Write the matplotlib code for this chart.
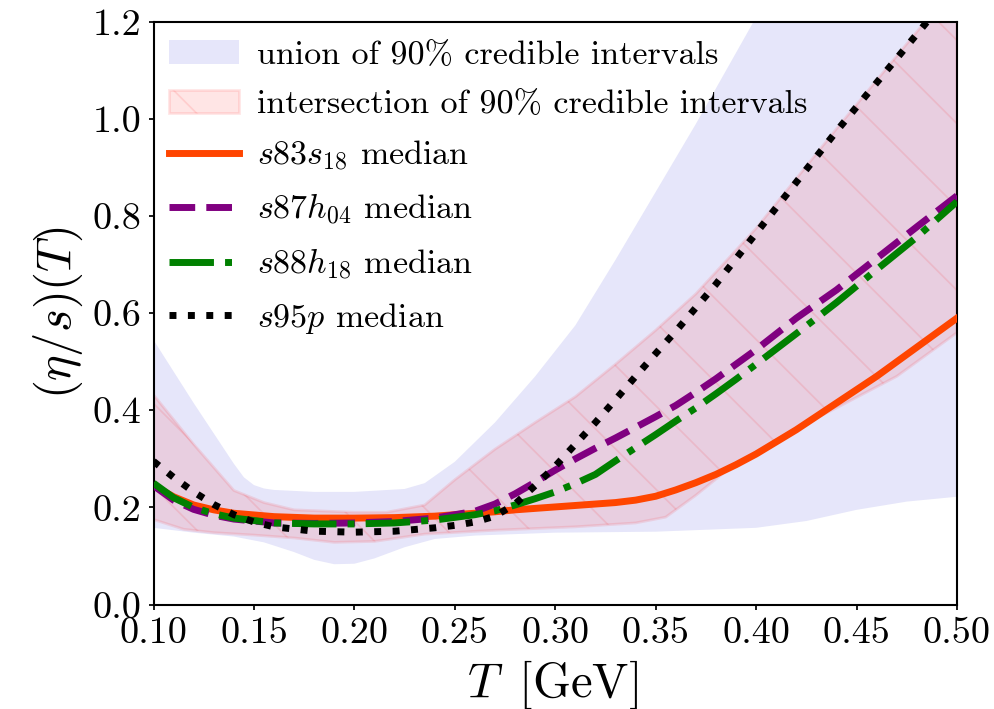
import matplotlib
matplotlib.use("Agg")
import matplotlib.pyplot as plt
import numpy as np
from matplotlib.patches import Patch
from matplotlib.lines import Line2D
from matplotlib.ticker import FormatStrFormatter

plt.rcParams['font.family'] = ['cmr10', 'DejaVu Serif']
plt.rcParams['mathtext.fontset'] = 'cm'
plt.rcParams['axes.formatter.use_mathtext'] = True
plt.rcParams['axes.unicode_minus'] = False
plt.rcParams['hatch.linewidth'] = 0.5

# ---- data ----
T_med = [0.10, 0.11, 0.12, 0.13, 0.14, 0.16, 0.18, 0.20, 0.22, 0.24, 0.26, 0.27, 0.28, 0.29,
         0.30, 0.31, 0.32, 0.33, 0.34, 0.35, 0.36, 0.37, 0.38, 0.39, 0.40, 0.42, 0.44, 0.46,
         0.48, 0.50]
s83s18 = [0.245, 0.222, 0.205, 0.195, 0.188, 0.181, 0.178, 0.178, 0.179, 0.182, 0.188, 0.191,
          0.195, 0.198, 0.201, 0.204, 0.207, 0.210, 0.215, 0.223, 0.236, 0.251, 0.268, 0.288,
          0.310, 0.360, 0.415, 0.470, 0.530, 0.590]
s87h04 = [0.245, 0.215, 0.196, 0.184, 0.176, 0.168, 0.167, 0.168, 0.171, 0.178, 0.192, 0.207,
          0.228, 0.252, 0.277, 0.300, 0.322, 0.343, 0.365, 0.387, 0.410, 0.437, 0.465, 0.495,
          0.525, 0.590, 0.648, 0.713, 0.778, 0.842]
s88h18 = [0.250, 0.220, 0.200, 0.187, 0.178, 0.168, 0.166, 0.166, 0.168, 0.174, 0.185, 0.193,
          0.205, 0.218, 0.232, 0.249, 0.268, 0.296, 0.323, 0.350, 0.378, 0.405, 0.434, 0.464,
          0.495, 0.558, 0.622, 0.690, 0.757, 0.830]

T_s95p = [0.10, 0.11, 0.12, 0.13, 0.14, 0.15, 0.16, 0.18, 0.20, 0.22, 0.24, 0.25, 0.26, 0.27,
          0.28, 0.29, 0.30, 0.31, 0.32, 0.33, 0.34, 0.35, 0.36, 0.38, 0.40, 0.42, 0.44, 0.46,
          0.48, 0.50]
s95p = [0.295, 0.262, 0.232, 0.206, 0.185, 0.170, 0.160, 0.151, 0.149, 0.151, 0.158, 0.163,
        0.170, 0.182, 0.207, 0.245, 0.285, 0.330, 0.375, 0.422, 0.470, 0.517, 0.563, 0.660,
        0.765, 0.870, 0.975, 1.075, 1.175, 1.275]

T_union_hi = [0.10, 0.12, 0.14, 0.145, 0.15, 0.155, 0.16, 0.18, 0.20, 0.225, 0.235, 0.25,
              0.27, 0.29, 0.31, 0.33, 0.35, 0.37, 0.40, 0.45, 0.50]
union_hi = [0.545, 0.415, 0.290, 0.262, 0.246, 0.239, 0.236, 0.232, 0.232, 0.238, 0.250,
            0.294, 0.375, 0.470, 0.575, 0.710, 0.850, 0.990, 1.210, 1.550, 1.900]
T_union_lo = [0.10, 0.12, 0.14, 0.155, 0.17, 0.18, 0.19, 0.20, 0.21, 0.225, 0.24, 0.26,
              0.30, 0.35, 0.40, 0.425, 0.45, 0.475, 0.50]
union_lo = [0.158, 0.148, 0.140, 0.128, 0.108, 0.092, 0.083, 0.084, 0.095, 0.118, 0.135,
            0.142, 0.148, 0.150, 0.158, 0.172, 0.195, 0.212, 0.222]

T_inter_hi = [0.10, 0.12, 0.14, 0.155, 0.17, 0.20, 0.216, 0.235, 0.25, 0.27, 0.29, 0.31,
              0.33, 0.35, 0.37, 0.40, 0.44, 0.48, 0.50]
inter_hi = [0.432, 0.330, 0.235, 0.210, 0.195, 0.190, 0.190, 0.205, 0.257, 0.320, 0.375,
            0.428, 0.495, 0.565, 0.640, 0.775, 0.980, 1.180, 1.280]
T_inter_lo = [0.10, 0.115, 0.13, 0.15, 0.17, 0.19, 0.21, 0.235, 0.27, 0.31, 0.34, 0.355,
              0.37, 0.385, 0.40, 0.42, 0.44, 0.47, 0.50]
inter_lo = [0.175, 0.155, 0.148, 0.143, 0.137, 0.128, 0.130, 0.145, 0.153, 0.160, 0.168,
            0.180, 0.225, 0.275, 0.315, 0.363, 0.405, 0.470, 0.560]

x_ticks = [0.10, 0.15, 0.20, 0.25, 0.30, 0.35, 0.40, 0.45, 0.50]
y_ticks = [0.0, 0.2, 0.4, 0.6, 0.8, 1.0, 1.2]

labels = ['union of 90% credible intervals',
          'intersection of 90% credible intervals',
          r'$s83s_{18}$ median', r'$s87h_{04}$ median',
          r'$s88h_{18}$ median', r'$s95p$ median']

# ---- figure ----
DPI = 250
fig = plt.figure(figsize=(994 / DPI, 709 / DPI), dpi=DPI)
ax = fig.add_axes([153.5 / 994, 1 - 604.5 / 709, (957 - 153.5) / 994, (604.5 - 22) / 709])

# union band on the union of both edges' sample positions
Tu = sorted(set(T_union_hi) | set(T_union_lo))
uh = np.interp(Tu, T_union_hi, union_hi)
ul = np.interp(Tu, T_union_lo, union_lo)
ax.fill_between(Tu, ul, uh, color='lavender', lw=0, zorder=1)

Ti = sorted(set(T_inter_hi) | set(T_inter_lo))
ih = np.interp(Ti, T_inter_hi, inter_hi)
il = np.interp(Ti, T_inter_lo, inter_lo)
ax.fill_between(Ti, il, ih, facecolor=(1, 0, 0, 0.1), edgecolor=(1, 0, 0, 0.1),
                hatch='\\', lw=0.8, zorder=2)

lw = 2.0
ax.plot(T_med, s83s18, color='orangered', lw=lw, ls='-', zorder=3)
ax.plot(T_med, s87h04, color='purple', lw=lw, ls='--', zorder=4)
ax.plot(T_med, s88h18, color='green', lw=lw, ls='-.', zorder=5)
ax.plot(T_s95p, s95p, color='black', lw=lw, ls=':', zorder=6)

ax.set_xlim(0.10, 0.50)
ax.set_ylim(0.0, 1.2)
ax.set_xticks(x_ticks)
ax.set_yticks(y_ticks)
ax.xaxis.set_major_formatter(FormatStrFormatter('%.2f'))
ax.yaxis.set_major_formatter(FormatStrFormatter('%.1f'))
ax.tick_params(direction='out', length=1.5, width=0.5, labelsize=11, pad=2)
for s in ax.spines.values():
    s.set_linewidth(0.6)

ax.set_xlabel(r'$T\,$ [GeV]', fontsize=14)
ax.set_ylabel(r'$(\eta/s)(T)$', fontsize=14)
ax.xaxis.set_label_coords(0.497, -0.092)
ax.yaxis.set_label_coords(-0.085, 0.5)

handles = [Patch(facecolor='lavender', edgecolor='none'),
           Patch(facecolor=(1, 0, 0, 0.1), edgecolor=(1, 0, 0, 0.1), hatch='\\', lw=0.8),
           Line2D([], [], color='orangered', lw=lw, ls='-'),
           Line2D([], [], color='purple', lw=lw, ls='--'),
           Line2D([], [], color='green', lw=lw, ls='-.'),
           Line2D([], [], color='black', lw=lw, ls=':')]
ax.legend(handles, labels, loc='upper left', bbox_to_anchor=(0, 1 - 3 / 582.5), frameon=False,
          fontsize=9.8, borderaxespad=0.0, borderpad=0.45, handletextpad=0.55,
          labelspacing=0.57, handlelength=2.05)

fig.savefig('out.png', dpi=DPI)
